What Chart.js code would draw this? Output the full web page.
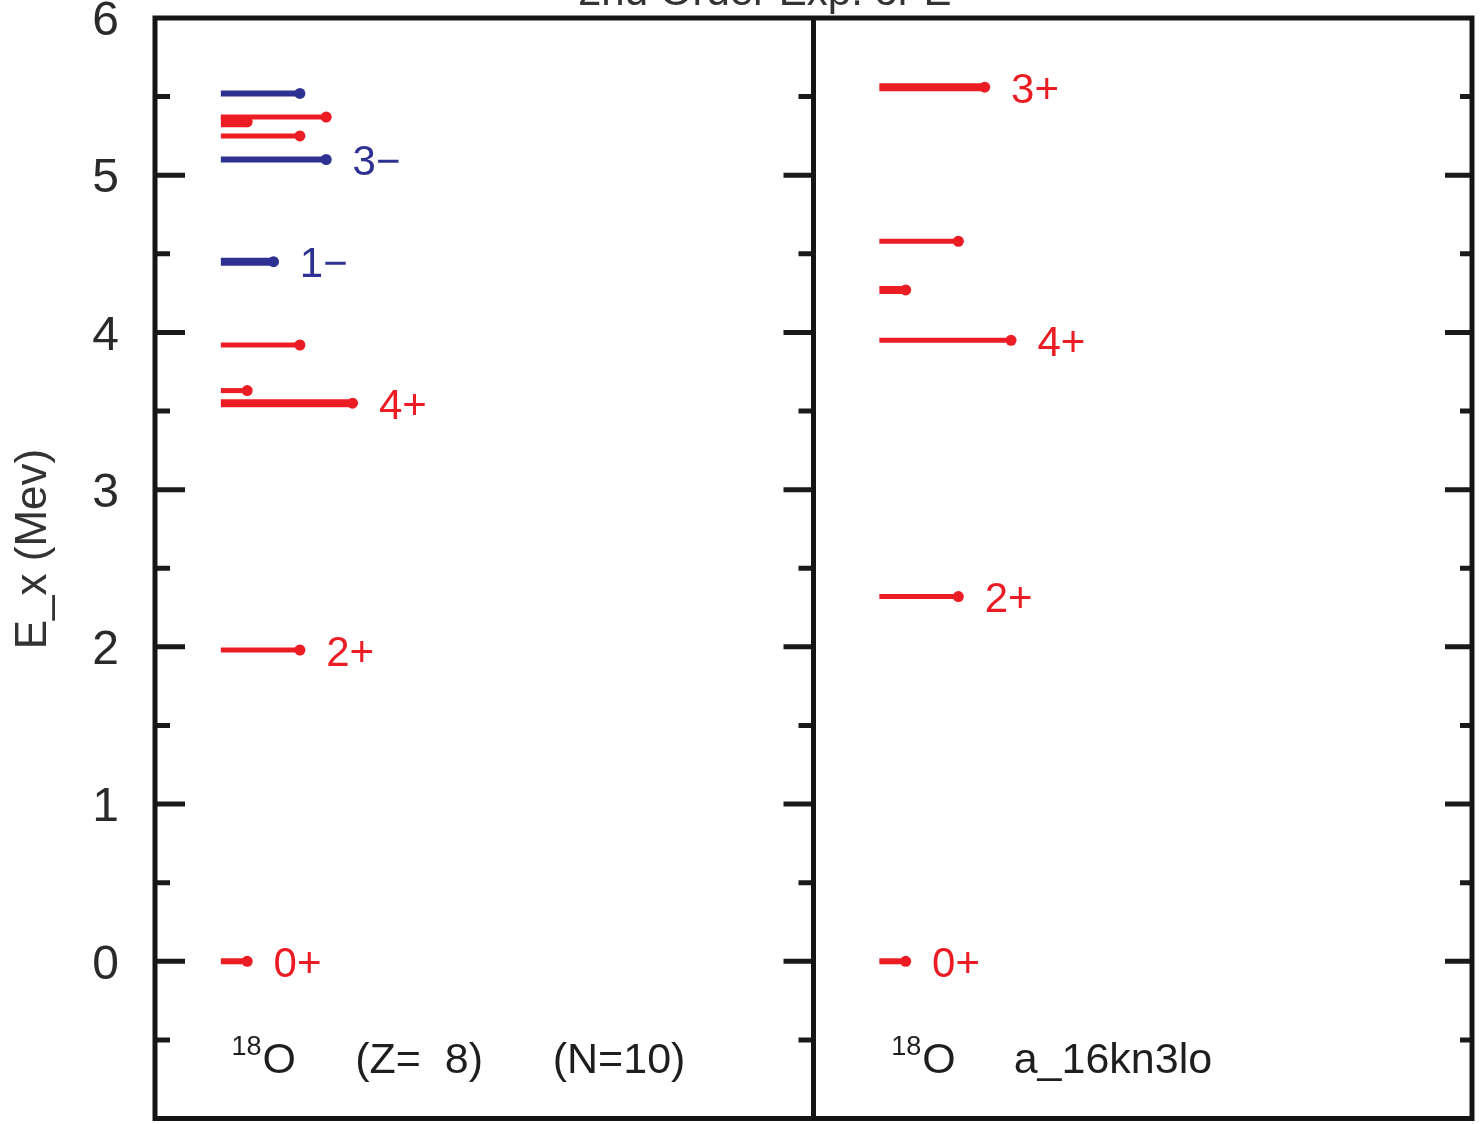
<!DOCTYPE html>
<html>
<head>
<meta charset="utf-8">
<script src="https://cdn.jsdelivr.net/npm/chart.js@4/dist/chart.umd.min.js"></script>
<style>
  html, body { margin: 0; padding: 0; background: #fff; }
  #wrap { width: 1480px; height: 1124px; }
</style>
</head>
<body>
<div id="wrap"><canvas id="levels"></canvas></div>
<script>
// left panel: experiment
const expEnergies = [0, 1.98, 3.55, 3.63, 3.92, 4.45, 5.10, 5.25, 5.34, 5.37, 5.52];
const expSpins    = [0, 2, 4, 0, 2, 1, 3, 2, 0, 3, 2];
const expParity   = ['+', '+', '+', '+', '+', '-', '-', '+', '+', '+', '-'];
const expLabels   = ['0+', '2+', '4+', '', '', '1−', '3−', '', '', '', ''];

// right panel: a_16kn3lo calculation
const thEnergies = [0, 2.32, 3.95, 4.27, 4.58, 5.56];
const thSpins    = [0, 2, 4, 0, 2, 3];
const thParity   = ['+', '+', '+', '+', '+', '+'];
const thLabels   = ['0+', '2+', '4+', '', '', '3+'];

const yTicks = [0, 1, 2, 3, 4, 5, 6];

// line thickness per level (style only)
const expWidths = [6, 5, 8, 5, 5, 8, 6, 5, 11, 5, 6];
const thWidths  = [6, 5, 5, 8, 5, 8];

const RED = '#ec1c24';
const BLUE = '#2e3192';
const FONT = '"Liberation Sans", Arial, Helvetica, sans-serif';
const PANEL = 25;      // x units per panel
const START = 2.5;     // level start inside each panel

function levelSets(energies, spins, parity, widths, offset) {
  return energies.map((e, i) => {
    const c = parity[i] === '+' ? RED : BLUE;
    return {
      data: [{ x: offset + START, y: e }, { x: offset + START + spins[i] + 1, y: e }],
      showLine: true,
      borderColor: c,
      backgroundColor: c,
      pointBackgroundColor: c,
      pointBorderWidth: 0,
      pointRadius: [0, 5.5],
      borderWidth: widths[i],
      borderCapStyle: 'butt',
      clip: false
    };
  });
}

const datasets = [
  ...levelSets(expEnergies, expSpins, expParity, expWidths, 0),
  ...levelSets(thEnergies, thSpins, thParity, thWidths, PANEL)
];

const framePlugin = {
  id: 'frame',
  afterDraw(chart) {
    const { ctx, chartArea: a, scales: { x, y } } = chart;
    ctx.save();

    // tick marks (inward), left edge, divider and right edge
    const midX = x.getPixelForValue(PANEL);
    ctx.strokeStyle = '#1a1a1a';
    ctx.lineWidth = 5;
    for (let v = -0.5; v < 6; v += 0.5) {
      const py = y.getPixelForValue(v);
      const len = Number.isInteger(v) ? 30 : 15;
      ctx.beginPath();
      ctx.moveTo(a.left, py); ctx.lineTo(a.left + len, py);
      ctx.moveTo(midX, py); ctx.lineTo(midX - len, py);
      ctx.moveTo(a.right, py); ctx.lineTo(a.right - len + 3, py);
      ctx.stroke();
    }

    // frame
    ctx.lineWidth = 5;
    ctx.strokeStyle = '#151515';
    ctx.strokeRect(a.left, a.top, a.right - a.left, a.bottom - a.top);
    ctx.beginPath();
    ctx.moveTo(midX, a.top); ctx.lineTo(midX, a.bottom);
    ctx.stroke();

    // level labels
    ctx.font = '42px ' + FONT;
    ctx.textBaseline = 'middle';
    ctx.textAlign = 'left';
    const putLabels = (energies, spins, parity, labels, offset) => {
      energies.forEach((e, i) => {
        if (!labels[i]) return;
        ctx.fillStyle = parity[i] === '+' ? RED : BLUE;
        const px = x.getPixelForValue(offset + START + spins[i] + 2);
        ctx.fillText(labels[i], px, y.getPixelForValue(e) + 4);
      });
    };
    putLabels(expEnergies, expSpins, expParity, expLabels, 0);
    putLabels(thEnergies, thSpins, thParity, thLabels, PANEL);

    // nucleus captions
    const capY = y.getPixelForValue(-0.62);
    const nucleus = (px) => {
      ctx.fillStyle = '#1e1e1e';
      ctx.font = '27px ' + FONT;
      ctx.textBaseline = 'alphabetic';
      ctx.fillText('18', px, capY - 4);
      const w = ctx.measureText('18').width;
      ctx.font = '43px ' + FONT;
      ctx.fillText('O', px + w + 1, capY + 14);
    };
    nucleus(x.getPixelForValue(2.9));
    ctx.font = '43px ' + FONT;
    ctx.fillText('(Z=  8)', x.getPixelForValue(7.6), capY + 14);
    ctx.fillText('(N=10)', x.getPixelForValue(15.1), capY + 14);
    nucleus(x.getPixelForValue(PANEL + 2.95));
    ctx.font = '43px ' + FONT;
    ctx.fillText('a_16kn3lo', x.getPixelForValue(PANEL + 7.6), capY + 14);

    // axis title
    ctx.save();
    ctx.translate(46, 549);
    ctx.rotate(-Math.PI / 2);
    ctx.textAlign = 'center';
    ctx.textBaseline = 'alphabetic';
    ctx.fillStyle = '#333';
    ctx.font = '44px ' + FONT;
    ctx.fillText('E_x (Mev)', 0, 0);
    ctx.restore();

    // title, cut by the top edge
    ctx.fillStyle = '#333';
    ctx.font = '42px ' + FONT;
    ctx.textAlign = 'left';
    ctx.textBaseline = 'alphabetic';
    ctx.fillText('2nd Order Exp. or E', 578, 5);

    ctx.restore();
  }
};

new Chart(document.getElementById('levels'), {
  type: 'scatter',
  data: { datasets },
  plugins: [framePlugin],
  options: {
    responsive: true,
    maintainAspectRatio: false,
    animation: false,
    layout: { padding: { top: 18, right: 8, bottom: 5, left: 0 } },
    plugins: { legend: { display: false }, tooltip: { enabled: false } },
    scales: {
      x: { type: 'linear', min: 0, max: 2 * PANEL, display: false },
      y: {
        type: 'linear',
        min: -1,
        max: 6,
        afterFit(scale) {
          scale.width = 155;
          scale.paddingTop = 0;
          scale.paddingBottom = 0;
        },
        afterBuildTicks(scale) { scale.ticks = yTicks.map(v => ({ value: v })); },
        grid: { display: false, drawTicks: false },
        border: { display: false },
        ticks: {
          color: '#2a2a2a',
          padding: 36,
          labelOffset: 4,
          font: { family: FONT, size: 48 },
          callback: v => String(v)
        }
      }
    }
  }
});
</script>
</body>
</html>
